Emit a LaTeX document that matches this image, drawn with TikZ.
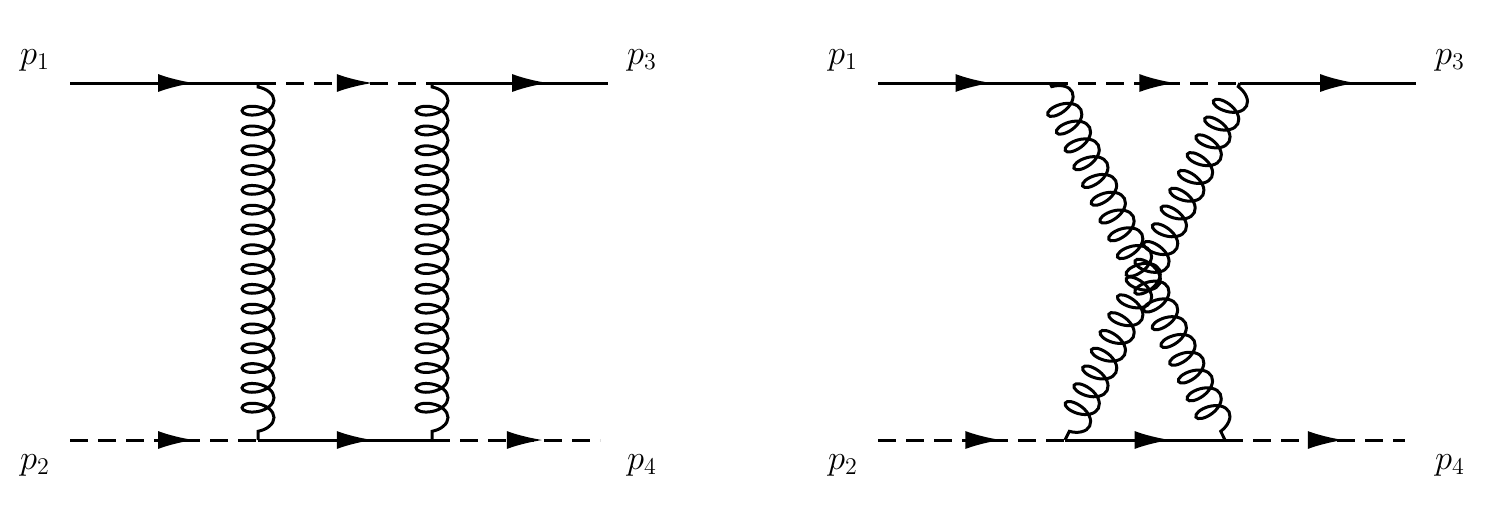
\documentclass[tikz,border=0pt]{standalone}
\usetikzlibrary{decorations.pathmorphing,decorations.markings,arrows.meta}
\begin{document}
\begin{tikzpicture}[x=0.5pt,y=-0.5pt,line width=1.5pt,
 fer/.style={postaction={decorate},decoration={markings,mark=at position 0.66 with {\arrow{Latex[length=18pt,width=9pt]}}}},
 sca/.style={dashed,dash pattern=on 9pt off 5pt,fer},
 glu/.style={decorate,decoration={coil,aspect=0.55,segment length=9.9pt,amplitude=8pt,pre length=2pt,post length=2pt}},
 lab/.style={font=\LARGE}]
\useasboundingbox (0,0) rectangle (1492,521);
% left
\coordinate (a1) at (70,83); \coordinate (v1) at (258,83); \coordinate (v2) at (432,83); \coordinate (a3) at (608,83);
\coordinate (a2) at (70,440); \coordinate (w1) at (258,440); \coordinate (w2) at (432,440); \coordinate (a4) at (600,440);
\draw[fer] (a1) -- (v1); \draw[sca] (v1) -- (v2); \draw[fer] (v2) -- (a3);
\draw[sca] (a2) -- (w1); \draw[fer] (w1) -- (w2); \draw[sca] (w2) -- (a4);
\draw[glu] (v1) -- (w1); \draw[glu] (v2) -- (w2);
\node[lab] (l1) at (35,60) {$p_1$}; \node[lab] (l2) at (35,465) {$p_2$};
\node[lab] (l3) at (642,60) {$p_3$}; \node[lab] (l4) at (642,465) {$p_4$};
% right
\coordinate (b1) at (878,83); \coordinate (u1) at (1050,83); \coordinate (u2) at (1240,83); \coordinate (b3) at (1416,83);
\coordinate (b2) at (878,440); \coordinate (x1) at (1065,440); \coordinate (x2) at (1225,440); \coordinate (b4) at (1405,440);
\draw[fer] (b1) -- (u1); \draw[sca] (u1) -- (u2); \draw[fer] (u2) -- (b3);
\draw[sca] (b2) -- (x1); \draw[fer] (x1) -- (x2); \draw[sca] (x2) -- (b4);
\draw[glu] (u1) -- (x2); \draw[glu] (u2) -- (x1);
\node[lab] (r1) at (843,60) {$p_1$}; \node[lab] (r2) at (843,465) {$p_2$};
\node[lab] (r3) at (1450,60) {$p_3$}; \node[lab] (r4) at (1450,465) {$p_4$};
\end{tikzpicture}
\end{document}
